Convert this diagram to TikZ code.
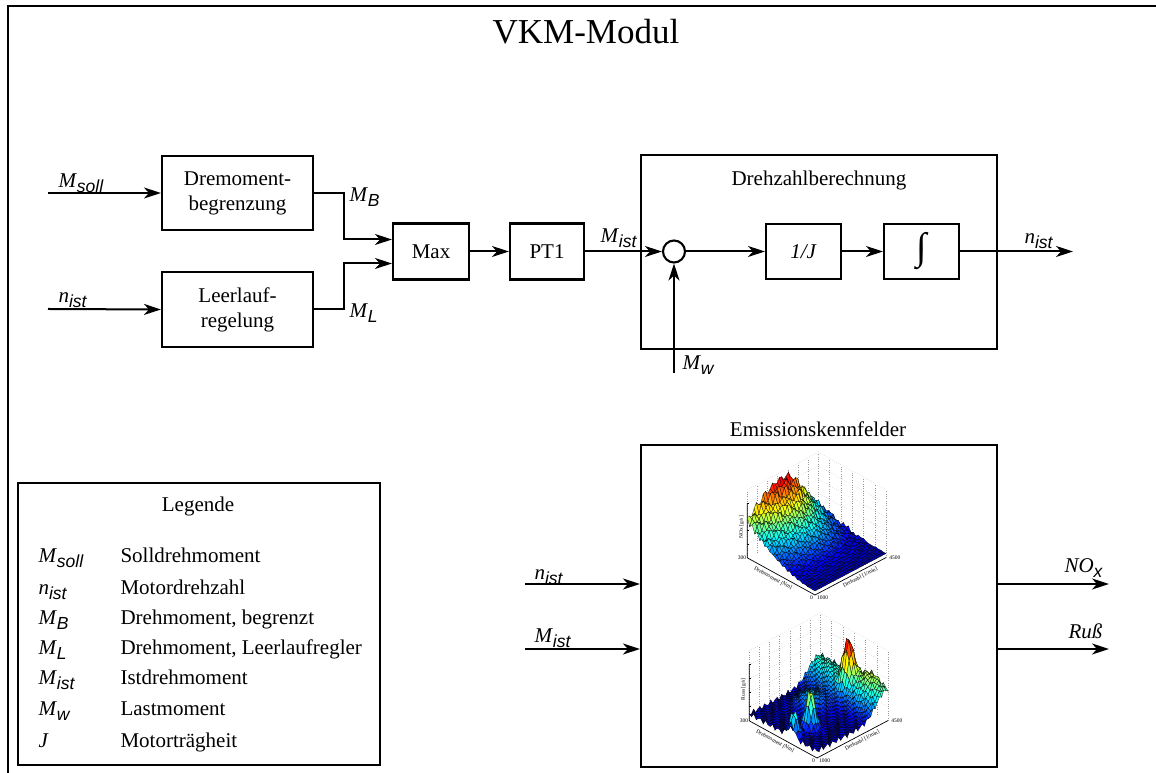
\documentclass[tikz,border=0pt]{standalone}
\usepackage{fontspec}
\setmainfont{Liberation Serif}
\newfontfamily\subsans{Liberation Sans}
\usepackage{pgfplots}
\pgfplotsset{compat=1.18}
\usetikzlibrary{arrows.meta,calc}

% symbol with sans-serif italic subscript
\newcommand{\vsym}[2]{\textit{#1}\raisebox{-5pt}{\fontsize{17.5}{17.5}\subsans\itshape #2}}

\tikzset{
  txt/.style={font=\fontsize{21}{25}\selectfont},
  blk/.style={draw, line width=2.1pt, inner sep=0pt, align=center, font=\fontsize{21}{25}\selectfont},
  conn/.style={line width=2pt, -{Stealth[length=17pt,width=11pt,inset=5pt]}},
  gridl/.style={dotted, black!40, line width=0.35pt},
  axl/.style={black, line width=0.7pt},
  tiny6/.style={font=\fontsize{5.5}{6}\selectfont, inner sep=1pt},
}
\pgfplotsset{
  surfstyle/.style={surf, shader=faceted, faceted color=black, line width=0.25pt},
  mapaxis/.style={
    x={(20.3pt,10.7pt)}, y={(-22.6pt,12.4pt)},
    xmin=0, xmax=3.5, ymin=0, ymax=3, zmin=0, zmax=1,
    hide axis, clip=false,
    colormap/jet, point meta min=0, point meta max=1,
  },
}

\begin{document}
\begin{tikzpicture}[x=1pt,y=1pt]
\useasboundingbox (0,0) rectangle (1156,773);

% module frame and title
\draw[line width=2.4pt] (8,-10) -- (8,767) -- (1170,767);
\node[font=\fontsize{35}{40}\selectfont, anchor=base] (title) at (586,729) {VKM-Modul};

% torque limitation and idle control
\node[blk, minimum width=151, minimum height=74] (dreh) at (237.5,580) {Dremoment-\\begrenzung};
\node[blk, minimum width=151, minimum height=75] (leer) at (237.5,463.5) {Leerlauf-\\regelung};
\node[blk, minimum width=76, minimum height=56] (max) at (431,521.5) {Max};
\node[blk, minimum width=74, minimum height=56] (pt1) at (547,521.5) {PT1};

\coordinate (msin) at (48,580);
\coordinate (nin) at (48,464);
\draw[conn] (msin) -- (dreh.west);
\draw[conn] (nin) -- (leer.west);
\draw[conn] (dreh.east) -- ++(30,0) |- ([yshift=12pt]max.west);
\draw[conn] (leer.east) -- ++(30,0) |- ([yshift=-12pt]max.west);
\draw[conn] (max) -- (pt1);

\node[txt, anchor=base west] (lmsoll) at (55,585) {\vsym{M}{soll}};
\node[txt, anchor=base west] (lnist) at (55,470) {\vsym{n}{ist}};
\node[txt, anchor=base west] (lmb) at (346,571) {\vsym{M}{B}};
\node[txt, anchor=base west] (lml) at (346,455) {\vsym{M}{L}};

% speed calculation
\node[blk, minimum width=356, minimum height=194] (drz) at (819,521) {};
\node[txt, anchor=base] (drzt) at (819,587) {Drehzahlberechnung};
\node[circle, draw, line width=2.1pt, minimum size=22, inner sep=0pt] (sum) at (674,521.5) {};
\node[blk, minimum width=75, minimum height=55] (invJ) at (803.5,521.5) {\textit{1/J}};
\node[blk, minimum width=75, minimum height=55] (integ) at (921.5,521.5) {\fontsize{38}{38}\selectfont ∫};

\coordinate (nout) at (1073,521.5);
\coordinate (mwin) at (674,400);
\draw[conn] (pt1) -- (sum);
\draw[conn] (sum) -- (invJ);
\draw[conn] (invJ) -- (integ);
\draw[conn] (integ) -- (nout);
\draw[conn] (mwin) -- (sum);

\node[txt, anchor=base west] (lmist) at (597,530) {\vsym{M}{ist}};
\node[txt, anchor=base west] (lmw) at (679,403) {\vsym{M}{w}};
\node[txt, anchor=base west] (lnout) at (1021,529) {\vsym{n}{ist}};

% emission maps
\node[blk, minimum width=356, minimum height=322] (emis) at (819,167) {};
\node[txt, anchor=base] (emist) at (818,336) {Emissionskennfelder};

\coordinate (nin2) at (525,189);
\coordinate (min2) at (525,124);
\coordinate (noxout) at (1109,189);
\coordinate (russout) at (1109,124);
\draw[conn] (nin2) -- (nin2 -| emis.west);
\draw[conn] (min2) -- (min2 -| emis.west);
\draw[conn] (noxout -| emis.east) -- (noxout);
\draw[conn] (russout -| emis.east) -- (russout);

\node[txt, anchor=base west] (lnin2) at (531,193) {\vsym{n}{ist}};
\node[txt, anchor=base west] (lmin2) at (531,130) {\vsym{M}{ist}};
\node[txt, anchor=base east] (lnox) at (1106,200) {\vsym{NO}{x}};
\node[txt, anchor=base east] (lruss) at (1106,134) {\textit{Ruß}};

% NOx map
\begin{axis}[mapaxis, at={(815pt,178pt)}, anchor=origin, z={(0pt,68pt)}]
\pgfplotsinvokeforeach{0,0.5,1,1.5,2,2.5,3,3.5}{\draw[gridl] (axis cs:#1,3,0) -- (axis cs:#1,3,1);}
\pgfplotsinvokeforeach{0,0.5,1,1.5,2,2.5,3}{\draw[gridl] (axis cs:3.5,#1,0) -- (axis cs:3.5,#1,1);}
\pgfplotsinvokeforeach{0.2,0.4,0.6,0.8,1}{\draw[gridl] (axis cs:0,3,#1) -- (axis cs:3.5,3,#1) -- (axis cs:3.5,0,#1);}
\draw[axl] (axis cs:0,3,0.8) -- (axis cs:0,3,0) -- (axis cs:0,0,0) -- (axis cs:3.5,0,0);
\pgfplotsinvokeforeach{0.2,0.4,0.6,0.8}{\draw[axl] (axis cs:0,3,#1) -- ++(2pt,0pt);}
\addplot3[surfstyle, domain=0:3.5, y domain=0:3, samples=32, samples y=28]
  {0.06 + 0.85*(y*y/9)*exp(-((x-1.8)^2)/(2.0+4*(x<1.8)))
   + 0.04*(y/3)*sin(deg(12*x))*cos(deg(9*y))
   + 0.045*(y/3)*sin(deg(40*x+30*y))};
\node[tiny6, anchor=east] at (axis cs:0,3,0) {300};
\node[tiny6, anchor=north east, xshift=-1pt] at (axis cs:0,0,0) {0};
\node[tiny6, anchor=north west, xshift=1pt] at (axis cs:0,0,0) {1000};
\node[tiny6, anchor=west, xshift=2pt] at (axis cs:3.5,0,0) {4500};
\path (axis cs:0,3,0) -- node[tiny6, sloped, below=2pt, pos=0.42] {Drehmoment [Nm]} (axis cs:0,0,0);
\path (axis cs:0,0,0) -- node[tiny6, sloped, below=2pt, pos=0.6] {Drehzahl [1/min]} (axis cs:3.5,0,0);
\node[tiny6, rotate=90, anchor=south, yshift=2pt] at (axis cs:0,3,0.45) {NOx [g/s]};
\end{axis}

% soot map
\begin{axis}[mapaxis, at={(817pt,15pt)}, anchor=origin, z={(0pt,70pt)}]
\pgfplotsinvokeforeach{0,0.5,1,1.5,2,2.5,3,3.5}{\draw[gridl] (axis cs:#1,3,0) -- (axis cs:#1,3,1);}
\pgfplotsinvokeforeach{0,0.5,1,1.5,2,2.5,3}{\draw[gridl] (axis cs:3.5,#1,0) -- (axis cs:3.5,#1,1);}
\pgfplotsinvokeforeach{0.2,0.4,0.6,0.8,1}{\draw[gridl] (axis cs:0,3,#1) -- (axis cs:3.5,3,#1) -- (axis cs:3.5,0,#1);}
\draw[axl] (axis cs:0,3,0.8) -- (axis cs:0,3,0) -- (axis cs:0,0,0) -- (axis cs:3.5,0,0);
\pgfplotsinvokeforeach{0.2,0.4,0.6,0.8}{\draw[axl] (axis cs:0,3,#1) -- ++(2pt,0pt);}
\addplot3[surfstyle, domain=0:3.5, y domain=0:3, samples=34, samples y=30]
  {0.1 + 0.32*exp(-((x-3.4)^2)/0.5) + 0.55*exp(-((x-3.2)^2+(y-1.5)^2)/0.06)
   + 0.55*exp(-((x-0.9)^2+(y-1.1)^2)/0.05) + 0.35*exp(-((x-0.15)^2+(y-1.15)^2)/0.04)
   + 0.15*exp(-((x-3.4)^2+(y-0.7)^2)/0.3) + 0.2*exp(-((x-1.9)^2+(y-2.0)^2)/0.3)
   + 0.035*sin(deg(37*x+23*y))};
\node[tiny6, anchor=east] at (axis cs:0,3,0) {300};
\node[tiny6, anchor=north east, xshift=-1pt] at (axis cs:0,0,0) {0};
\node[tiny6, anchor=north west, xshift=1pt] at (axis cs:0,0,0) {1000};
\node[tiny6, anchor=west, xshift=2pt] at (axis cs:3.5,0,0) {4500};
\path (axis cs:0,3,0) -- node[tiny6, sloped, below=2pt, pos=0.42] {Drehmoment [Nm]} (axis cs:0,0,0);
\path (axis cs:0,0,0) -- node[tiny6, sloped, below=2pt, pos=0.6] {Drehzahl [1/min]} (axis cs:3.5,0,0);
\node[tiny6, rotate=90, anchor=south, yshift=2pt] at (axis cs:0,3,0.45) {Russ [g/s]};
\end{axis}

% legend
\node[draw, line width=2.1pt, minimum width=362, minimum height=282] (leg) at (199,149) {};
\node[txt, anchor=base] (legt) at (198,261) {Legende};
\node[txt, anchor=base west] (s1) at (35,210) {\vsym{M}{soll}};
\node[txt, anchor=base west] (d1) at (117,210) {Solldrehmoment};
\node[txt, anchor=base west] (s2) at (35,178) {\vsym{n}{ist}};
\node[txt, anchor=base west] (d2) at (117,178) {Motordrehzahl};
\node[txt, anchor=base west] (s3) at (35,148) {\vsym{M}{B}};
\node[txt, anchor=base west] (d3) at (117,148) {Drehmoment, begrenzt};
\node[txt, anchor=base west] (s4) at (35,118) {\vsym{M}{L}};
\node[txt, anchor=base west] (d4) at (117,118) {Drehmoment, Leerlaufregler};
\node[txt, anchor=base west] (s5) at (35,88) {\vsym{M}{ist}};
\node[txt, anchor=base west] (d5) at (117,88) {Istdrehmoment};
\node[txt, anchor=base west] (s6) at (35,57) {\vsym{M}{w}};
\node[txt, anchor=base west] (d6) at (117,57) {Lastmoment};
\node[txt, anchor=base west] (s7) at (35,25) {\textit{J}};
\node[txt, anchor=base west] (d7) at (117,25) {Motorträgheit};
\end{tikzpicture}
\end{document}
